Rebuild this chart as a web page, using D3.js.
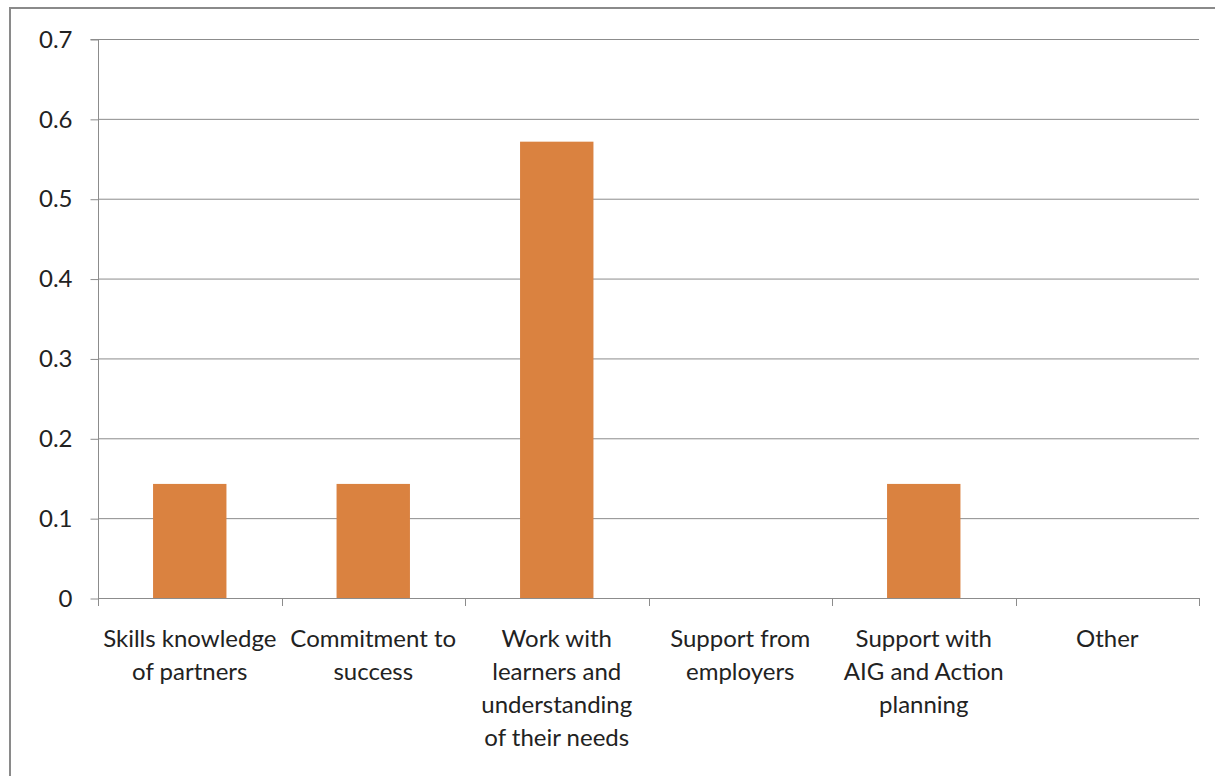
<!DOCTYPE html>
<html>
<head>
<meta charset="utf-8">
<script src="https://cdn.jsdelivr.net/npm/d3@7"></script>
<style>
  html, body { margin: 0; padding: 0; background: #fff; }
  svg { display: block; }
  text { font-family: Lato, "Open Sans", sans-serif; fill: #222; }
</style>
</head>
<body>
<svg id="chart" width="1215" height="776"></svg>
<script>
// Share of responses per category
const categories = [
  "Skills knowledge of partners",
  "Commitment to success",
  "Work with learners and understanding of their needs",
  "Support from employers",
  "Support with AIG and Action planning",
  "Other"
];
const categoryLines = [
  ["Skills knowledge", "of partners"],
  ["Commitment to", "success"],
  ["Work with", "learners and", "understanding", "of their needs"],
  ["Support from", "employers"],
  ["Support with", "AIG and Action", "planning"],
  ["Other"]
];
const values = [0.142857, 0.142857, 0.571429, 0, 0.142857, 0];
const yTicks = [0, 0.1, 0.2, 0.3, 0.4, 0.5, 0.6, 0.7];

const svg = d3.select("#chart");
const W = 1215, H = 776;
const plot = { left: 98, right: 1199, top: 39, bottom: 598 };

// outer chart frame
svg.append("rect")
  .attr("x", 10).attr("y", 8)
  .attr("width", W).attr("height", H)
  .attr("fill", "none")
  .attr("stroke", "#8a8a8a")
  .attr("stroke-width", 2);

const x = d3.scaleBand()
  .domain(categories)
  .range([plot.left, plot.right])
  .paddingInner(0.6)
  .paddingOuter(0.3);

const bandX = d3.scaleBand()
  .domain(categories)
  .range([plot.left, plot.right]);

const y = d3.scaleLinear()
  .domain([0, 0.7])
  .range([plot.bottom, plot.top]);

// horizontal gridlines
svg.append("g")
  .selectAll("line")
  .data(yTicks.filter(d => d > 0))
  .join("line")
  .attr("x1", plot.left).attr("x2", plot.right)
  .attr("y1", d => y(d) + 0.5).attr("y2", d => y(d) + 0.5)
  .attr("stroke", "#8c8c8c")
  .attr("stroke-width", 1);

// y axis
const yAxis = d3.axisLeft(y)
  .tickValues(yTicks)
  .tickFormat(d => d === 0 ? "0" : d3.format(".1f")(d))
  .tickSize(8)
  .tickPadding(18);
const gy = svg.append("g")
  .attr("transform", `translate(${plot.left + 0.5},0.5)`)
  .call(yAxis);
gy.selectAll("path, line").attr("stroke", "#8c8c8c");
gy.select(".domain").attr("d", `M-8,${plot.top}H0V${plot.bottom}`);
gy.selectAll("text")
  .style("font-size", "24px")
  .attr("fill", "#222");

// bars
svg.append("g")
  .selectAll("rect")
  .data(values)
  .join("rect")
  .attr("x", (d, i) => x(categories[i]))
  .attr("width", x.bandwidth())
  .attr("y", d => y(d))
  .attr("height", d => y(0) - y(d))
  .attr("fill", "#DA8240");

// x axis baseline and category ticks
const xAxis = svg.append("g");
xAxis.append("line")
  .attr("x1", plot.left).attr("x2", plot.right)
  .attr("y1", plot.bottom + 0.5).attr("y2", plot.bottom + 0.5)
  .attr("stroke", "#8c8c8c");
const boundaries = categories.map(c => bandX(c)).concat([plot.right]);
xAxis.selectAll("line.tick")
  .data(boundaries)
  .join("line")
  .attr("class", "tick")
  .attr("x1", d => Math.round(d) + 0.5).attr("x2", d => Math.round(d) + 0.5)
  .attr("y1", plot.bottom).attr("y2", plot.bottom + 8)
  .attr("stroke", "#8c8c8c");

// category labels
const labels = xAxis.selectAll("text.cat")
  .data(categories)
  .join("text")
  .attr("class", "cat")
  .attr("text-anchor", "middle")
  .attr("transform", c => `translate(${bandX(c) + bandX.bandwidth() / 2},647)`)
  .style("font-size", "24px");
labels.each(function(c, i) {
  d3.select(this).selectAll("tspan")
    .data(categoryLines[i])
    .join("tspan")
    .attr("x", 0)
    .attr("dy", (d, j) => j === 0 ? 0 : 33)
    .text(d => d);
});
</script>
</body>
</html>
